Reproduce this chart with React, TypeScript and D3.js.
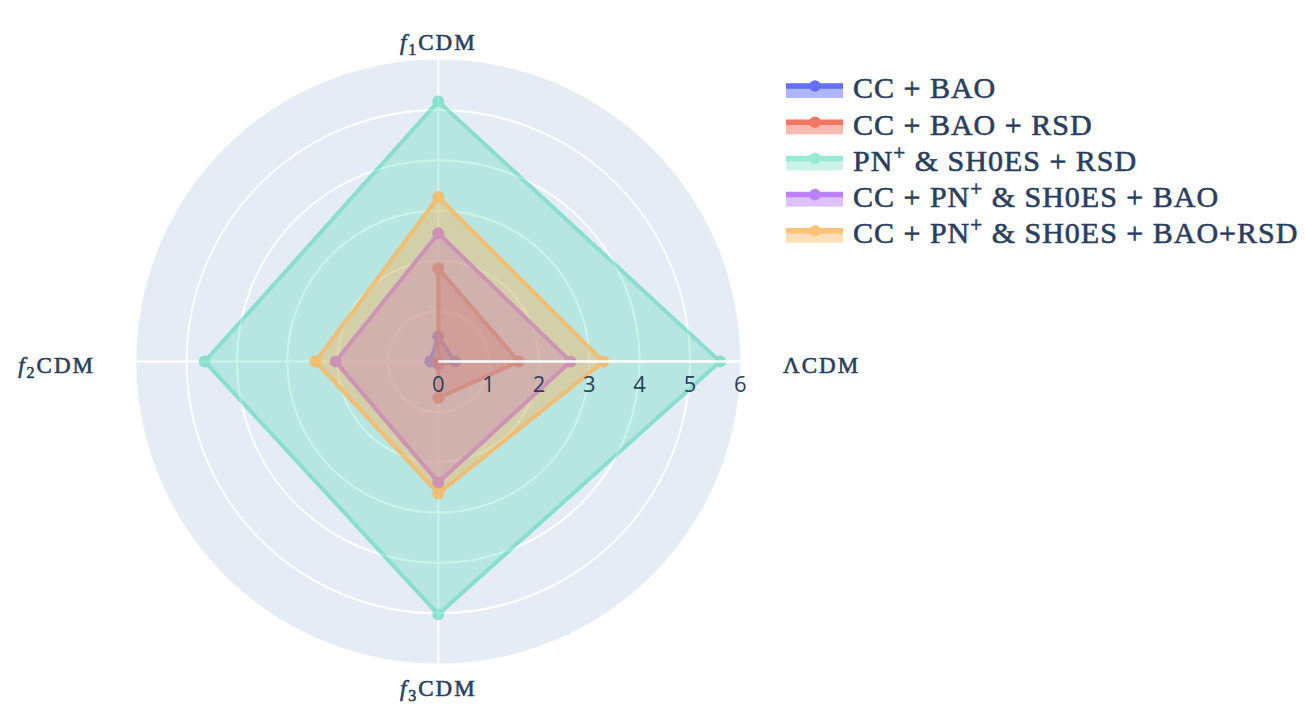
import React from 'react';
import * as d3 from 'd3';

// ---------- data ----------
const categories = ['ΛCDM', 'f1CDM', 'f2CDM', 'f3CDM'];
const seriesNames = [
  'CC + BAO',
  'CC + BAO + RSD',
  'PN+ & SH0ES + RSD',
  'CC + PN+ & SH0ES + BAO',
  'CC + PN+ & SH0ES + BAO+RSD',
];
const ccBao = [0.33, 0.5, 0.16, 0.05];
const ccBaoRsd = [1.6, 1.85, 0.0, 0.72];
const pnShoesRsd = [5.6, 5.17, 4.64, 5.02];
const ccPnShoesBao = [2.63, 2.55, 2.04, 2.4];
const ccPnShoesBaoRsd = [3.28, 3.27, 2.44, 2.62];
const radialTicks = [0, 1, 2, 3, 4, 5, 6];

const seriesValues = [ccBao, ccBaoRsd, pnShoesRsd, ccPnShoesBao, ccPnShoesBaoRsd];
const colors = ['#636efa', '#ef553b', '#00cc96', '#ab63fa', '#ffb456'];
const opacities = [1, 0.8, 0.4, 0.8, 0.8];

const W = 1305;
const H = 705;
const cx = 438.3;
const cy = 361.6;
const R = 302;
const textColor = '#2a3f5f';
const serif = '"Liberation Serif", "Times New Roman", serif';
const sans = '"Open Sans", "Noto Sans", sans-serif';

const rScale = d3.scaleLinear().domain([0, 6]).range([0, R]);
const aScale = d3.scaleLinear().domain([0, categories.length]).range([0, 2 * Math.PI]);

const pt = (i: number, v: number): [number, number] => {
  const a = aScale(i);
  const r = rScale(v);
  return [cx + r * Math.cos(a), cy - r * Math.sin(a)];
};

const lineGen = d3
  .line<[number, number]>()
  .x((d) => d[0])
  .y((d) => d[1])
  .curve(d3.curveLinearClosed);

function withAlpha(c: string, a: number) {
  const col = d3.color(c)!;
  col.opacity = a;
  return col.formatRgb();
}

function CatLabel({ name, x, y, anchor }: { name: string; x: number; y: number; anchor: string }) {
  const common = {
    x,
    y,
    textAnchor: anchor as any,
    fontFamily: serif,
    fontSize: 23,
    fill: textColor,
    stroke: textColor,
    strokeWidth: 0.6,
    letterSpacing: 2,
  };
  if (name.startsWith('f')) {
    return (
      <text {...common}>
        <tspan fontStyle="italic">f</tspan>
        <tspan fontSize={16} dy={5}>
          {name.charAt(1)}
        </tspan>
        <tspan dy={-5}>{name.slice(2)}</tspan>
      </text>
    );
  }
  return <text {...common}>{name}</text>;
}

function LegendText({ name, x, y }: { name: string; x: number; y: number }) {
  const parts = name.split('PN+');
  return (
    <text
      x={x}
      y={y}
      fontFamily={serif}
      fontSize={30}
      fill={textColor}
      stroke={textColor}
      strokeWidth={0.6}
      letterSpacing={1}
    >
      {parts.length === 1 ? (
        name
      ) : (
        <>
          <tspan>{parts[0] + 'PN'}</tspan>
          <tspan fontSize={21} dy={-11}>
            +
          </tspan>
          <tspan dy={11}>{parts[1]}</tspan>
        </>
      )}
    </text>
  );
}

export default function App() {
  const catPos = [
    { x: 783, y: 373, anchor: 'start' },
    { x: cx, y: 50, anchor: 'middle' },
    { x: 95, y: 373, anchor: 'end' },
    { x: cx, y: 696, anchor: 'middle' },
  ];
  return (
    <svg
      width={W}
      height={H}
      style={{ position: 'absolute', left: 0, top: 0, background: '#fff' }}
    >
      {/* polar background */}
      <circle cx={cx} cy={cy} r={R} fill="#e5ecf6" />
      {/* radial grid circles */}
      {radialTicks
        .filter((t) => t > 0 && t < 6)
        .map((t) => (
          <circle key={t} cx={cx} cy={cy} r={rScale(t)} fill="none" stroke="#fff" strokeWidth={2} />
        ))}
      {/* angular spokes */}
      {categories.map((c, i) => {
        const [x, y] = pt(i, 6);
        return <line key={c} x1={cx} y1={cy} x2={x} y2={y} stroke="#fff" strokeWidth={2} />;
      })}

      {/* traces */}
      {seriesValues.map((vals, si) => {
        const pts = vals.map((v, i) => pt(i, v));
        return (
          <g key={si} opacity={opacities[si]}>
            <path
              d={lineGen(pts) || ''}
              fill={withAlpha(colors[si], 0.5)}
              stroke={colors[si]}
              strokeWidth={4}
              strokeLinejoin="round"
            />
            {pts.map((p, i) => (
              <circle key={i} cx={p[0]} cy={p[1]} r={6} fill={colors[si]} />
            ))}
          </g>
        );
      })}

      {/* radial axis line above traces */}
      <line x1={cx} y1={cy} x2={cx + R} y2={cy} stroke="#fff" strokeWidth={2.5} />
      {radialTicks.map((t) => (
        <text
          key={t}
          x={cx + rScale(t)}
          y={cy + 30}
          textAnchor="middle"
          fontFamily={sans}
          fontSize={22}
          fill={textColor}
        >
          {t}
        </text>
      ))}

      {/* category labels */}
      {categories.map((c, i) => (
        <CatLabel key={c} name={c} x={catPos[i].x} y={catPos[i].y} anchor={catPos[i].anchor} />
      ))}

      {/* legend */}
      {seriesNames.map((name, si) => {
        const y0 = 86 + si * 36.2;
        return (
          <g key={name}>
            <g opacity={opacities[si]}>
              <rect x={786} y={y0} width={57} height={12} fill={withAlpha(colors[si], 0.5)} />
              <line x1={786} x2={843} y1={y0} y2={y0} stroke={colors[si]} strokeWidth={5.5} />
              <circle cx={815} cy={y0} r={5.8} fill={colors[si]} />
            </g>
            <LegendText name={name} x={853} y={y0 + 12.3} />
          </g>
        );
      })}
    </svg>
  );
}
